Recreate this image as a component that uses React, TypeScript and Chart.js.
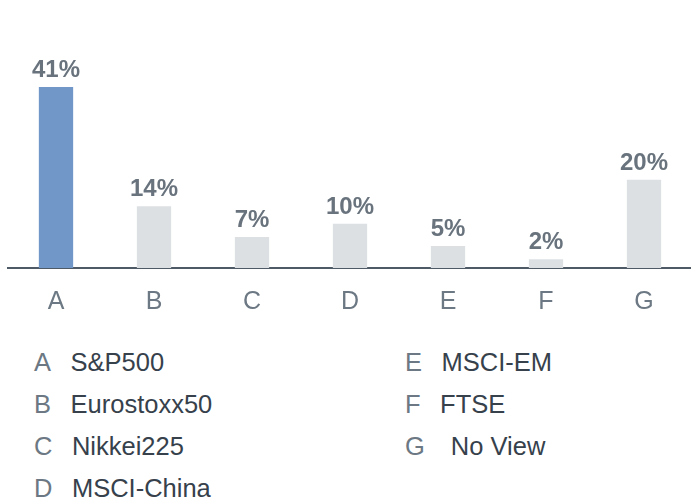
import React, { useEffect, useRef } from "react";
import { Chart, registerables } from "chart.js";

Chart.register(...registerables);

const categories = ["A", "B", "C", "D", "E", "F", "G"];
const values = [41, 14, 7, 10, 5, 2, 20];
const valueLabels = ["41%", "14%", "7%", "10%", "5%", "2%", "20%"];
const legendNames = ["S&P500", "Eurostoxx50", "Nikkei225", "MSCI-China", "MSCI-EM", "FTSE", "No View"];

const FONT = "'Liberation Sans', Arial, Helvetica, sans-serif";

const valueLabelPlugin = {
  id: "valueLabels",
  afterDatasetsDraw(chart: any) {
    const ctx = chart.ctx;
    const meta = chart.getDatasetMeta(0);
    ctx.save();
    ctx.font = `bold 24px ${FONT}`;
    ctx.fillStyle = "#69737d";
    ctx.textAlign = "center";
    ctx.textBaseline = "alphabetic";
    meta.data.forEach((bar: any, i: number) => {
      ctx.fillText(valueLabels[i], bar.x, bar.y - 10);
    });
    ctx.restore();
  },
};

export default function App() {
  const ref = useRef<HTMLCanvasElement>(null);
  useEffect(() => {
    document.body.style.margin = "0";
    if (!ref.current) return;
    const chart = new Chart(ref.current, {
      type: "bar",
      data: {
        labels: categories,
        datasets: [
          {
            data: values,
            backgroundColor: values.map((_, i) => (i === 0 ? "#7097c7" : "#dce0e3")),
            barPercentage: 0.35,
            categoryPercentage: 1,
            borderWidth: 0,
          },
        ],
      },
      options: {
        animation: false,
        responsive: true,
        maintainAspectRatio: false,
        layout: { padding: { top: 87, left: 0, right: 0, bottom: 0 } },
        plugins: { legend: { display: false }, tooltip: { enabled: false } },
        scales: {
          x: {
            grid: { display: false, drawTicks: false },
            border: { display: true, color: "#4e5a65", width: 2 },
            ticks: { color: "#6c7883", font: { family: FONT, size: 25 }, padding: 19 },
          },
          y: {
            display: false,
            min: 0,
            max: 41,
          },
        },
      },
      plugins: [valueLabelPlugin],
    });
    return () => chart.destroy();
  }, []);

  const rows = categories.map((c, i) => ({ c, name: legendNames[i] }));
  const left = rows.slice(0, 4);
  const right = rows.slice(4);

  const col = (items: { c: string; name: string }[], x: number) => (
    <div style={{ position: "absolute", left: x, top: 341 }}>
      {items.map((r) => (
        <div key={r.c} style={{ display: "flex", height: 42, lineHeight: "42px", fontSize: 25.5, fontFamily: FONT, whiteSpace: "nowrap" }}>
          <span style={{ color: "#6c7883" }}>{r.c}</span>
          <span style={{ color: "#36414c", marginLeft: r.c === "G" ? 26 : 19.5 }}>{r.name}</span>
        </div>
      ))}
    </div>
  );

  return (
    <div style={{ position: "relative", width: 691, height: 504, overflow: "hidden" }}>
      <div style={{ position: "absolute", left: 7, top: 0, width: 686, height: 336 }}>
        <canvas ref={ref} />
      </div>
      {col(left, 34)}
      {col(right, 405)}
    </div>
  );
}
